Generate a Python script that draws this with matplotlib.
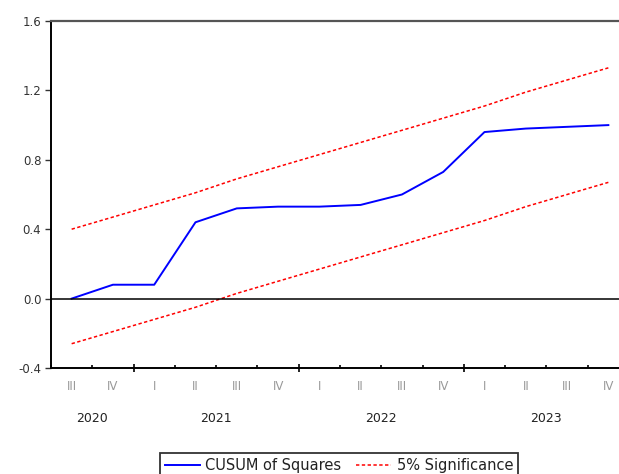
import numpy as np
import matplotlib
matplotlib.use('Agg')
import matplotlib.pyplot as plt

# quarterly observations 2020Q3 .. 2023Q4
quarters = ['III', 'IV', 'I', 'II', 'III', 'IV', 'I', 'II',
            'III', 'IV', 'I', 'II', 'III', 'IV']
years = ['2020', '2021', '2022', '2023']
year_span = [(-0.5, 1.5), (1.5, 5.5), (5.5, 9.5), (9.5, 13.5)]

cusum_sq = [0.00, 0.08, 0.08, 0.44, 0.52, 0.53, 0.53, 0.54,
            0.60, 0.73, 0.96, 0.98, 0.99, 1.00]
upper = [0.40, 0.47, 0.54, 0.61, 0.69, 0.76, 0.83, 0.90,
         0.97, 1.04, 1.11, 1.19, 1.26, 1.33]
lower = [-0.26, -0.19, -0.12, -0.05, 0.03, 0.10, 0.17, 0.24,
         0.31, 0.38, 0.45, 0.53, 0.60, 0.67]

plt.rcParams['font.family'] = ['DejaVu Sans']

W, H = 619, 474
fig = plt.figure(figsize=(W / 100., H / 100.), dpi=100)
ax = fig.add_axes([51. / W, 1 - 368. / H, (629. - 51.) / W, (368. - 21.) / H])

x = np.arange(len(quarters))
l1, = ax.plot(x, cusum_sq, color='#0000ff', lw=1.4)
l2, = ax.plot(x, upper, color='#ff0000', lw=1.1, ls=(0, (2.2, 1.6)))
ax.plot(x, lower, color='#ff0000', lw=1.1, ls=(0, (2.2, 1.6)))
ax.axhline(0, color='black', lw=1.1)

ax.set_xlim(-0.5, 13.5)
ax.set_ylim(-0.4, 1.6)
ax.set_yticks([-0.4, 0.0, 0.4, 0.8, 1.2, 1.6])
ax.set_yticklabels(['-0.4', '0.0', '0.4', '0.8', '1.2', '1.6'])
ax.tick_params(axis='y', direction='out', length=4, width=1,
               labelsize=8.5, colors='#333333', pad=3)

# quarter boundaries as small ticks, year boundaries as longer ones
bounds = [b + 0.5 for b in range(-1, 13) if (b + 0.5) not in (1.5, 5.5, 9.5)]
ax.set_xticks(bounds, minor=True)
ax.set_xticks([1.5, 5.5, 9.5])
ax.set_xticklabels([])
ax.tick_params(axis='x', which='minor', direction='in', length=2, width=1.2)
ax.tick_params(axis='x', which='major', direction='inout', length=6, width=1.2)

for s in ['left', 'bottom']:
    ax.spines[s].set_linewidth(1.4)
ax.spines['top'].set_color('#555555')
ax.spines['top'].set_linewidth(1.6)
ax.spines['right'].set_visible(False)

tr = ax.get_xaxis_transform()
for i, q in enumerate(quarters):
    ax.text(i, -19. / 347, q, transform=tr, ha='center', va='center',
            fontsize=8.5, color='#999999')
for yr, (a, b) in zip(years, year_span):
    ax.text((a + b) / 2., -50. / 347, yr, transform=tr, ha='center',
            va='center', fontsize=9, color='#222222')

leg = fig.legend([l1, l2], ['CUSUM of Squares', '5% Significance'],
                 loc='upper center', bbox_to_anchor=(339. / W, 1 - 446. / H),
                 ncol=2, fontsize=10.5, frameon=True, fancybox=False,
                 handlelength=2.4, columnspacing=1.0, borderpad=0.3,
                 handletextpad=0.4, labelcolor='#222222')
leg.get_frame().set_edgecolor('black')
leg.get_frame().set_linewidth(1.3)

fig.savefig('out.png', dpi=100)
